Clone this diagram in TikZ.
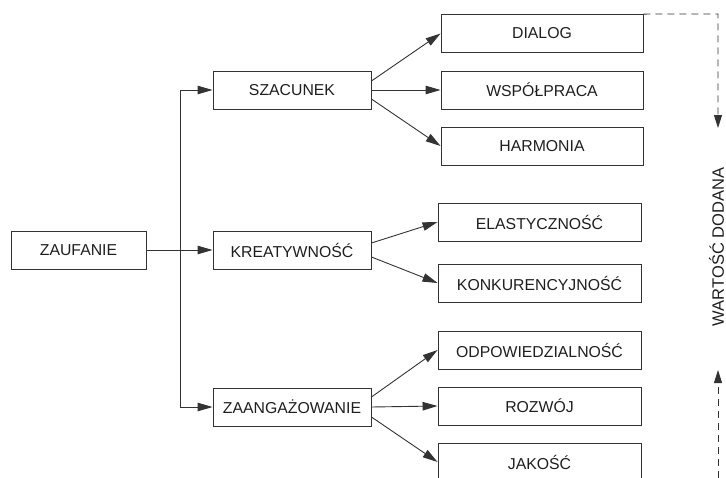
\documentclass[tikz,border=0pt]{standalone}
\usepackage{fontspec}
\setmainfont{Liberation Sans}
\usetikzlibrary{arrows.meta}
\definecolor{ln}{HTML}{333333}
\definecolor{tx}{HTML}{1E1E1E}
\tikzset{
  box/.style={draw=ln, line width=0.9pt, minimum height=38pt, inner sep=0pt,
    text=tx, font=\fontsize{15.8}{18}\selectfont},
  lbox/.style={box, minimum width=158pt},
  rbox/.style={box, minimum width=203pt},
  conn/.style={draw=ln, line width=0.9pt, -{Triangle[length=15pt,width=8.5pt]}},
  plain/.style={draw=ln, line width=0.9pt},
  dashline/.style={draw=ln, line width=0.9pt, dash pattern=on 7pt off 5pt},
  dasharrow/.style={dashline, -{Triangle[length=13pt,width=8pt]}}
}
\begin{document}
\begin{tikzpicture}[x=1pt,y=-1pt]
\useasboundingbox (0,0) rectangle (726,477);
\clip (0,0) rectangle (726,477);
% left
\node[box, minimum width=135pt] (zau) at (78.5,250) {ZAUFANIE};
\node[lbox] (sza) at (292,90) {SZACUNEK};
\node[lbox] (kre) at (292,250) {KREATYWNOŚĆ};
\node[lbox] (zaa) at (292,407) {ZAANGAŻOWANIE};
% right
\node[rbox, minimum width=202pt] (dia) at (542,33.5) {DIALOG};
\node[rbox, minimum width=202pt] (wsp) at (542,90) {WSPÓŁPRACA};
\node[rbox, minimum width=202pt] (har) at (542,146) {HARMONIA};
\node[rbox] (ela) at (539.5,222) {ELASTYCZNOŚĆ};
\node[rbox] (kon) at (539.5,283) {KONKURENCYJNOŚĆ};
\node[rbox] (odp) at (539.5,350) {ODPOWIEDZIALNOŚĆ};
\node[rbox] (roz) at (539.5,406) {ROZWÓJ};
\node[rbox] (jak) at (539.5,462) {JAKOŚĆ};
% trunk
\coordinate (ttop) at (180,90);
\coordinate (tbot) at (180,407);
\draw[plain] (ttop) -- (tbot);
\draw[conn] (ttop) -- (sza.west);
\draw[conn] (tbot) -- (zaa.west);
\draw[conn] (zau.east) -- (kre.west);
% fans
\draw[conn] ([yshift=9pt]sza.east) -- (dia.west);
\draw[conn] (sza.east) -- (wsp.west);
\draw[conn] ([yshift=-9pt]sza.east) -- (har.west);
\draw[conn] ([yshift=7pt]kre.east) -- (ela.west);
\draw[conn] ([yshift=-7pt]kre.east) -- (kon.west);
\draw[conn] ([yshift=10pt]zaa.east) -- (odp.west);
\draw[conn] (zaa.east) -- (roz.west);
\draw[conn] ([yshift=-10pt]zaa.east) -- (jak.west);
% value added
\node[rotate=90, text=tx, font=\fontsize{16.5}{19}\selectfont, inner sep=0pt] (val) at (716.5,247) {WARTOŚĆ DODANA};
\coordinate (turn) at (718,14);
\coordinate (tipt) at (718,128);
\coordinate (bstart) at (718,478);
\coordinate (tipb) at (718,370);
\draw[dasharrow] (dia.north east) -- (turn) -- (tipt);
\draw[dasharrow] (bstart) -- (tipb);
\end{tikzpicture}
\end{document}
